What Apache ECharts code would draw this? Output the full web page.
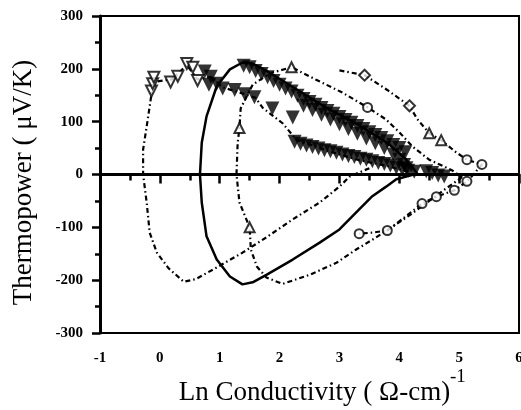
<!DOCTYPE html>
<html>
<head>
<meta charset="utf-8">
<script src="https://cdn.jsdelivr.net/npm/echarts@6/dist/echarts.min.js"></script>
<style>
  html, body { margin: 0; padding: 0; background: #fff; }
  #chart { width: 521px; height: 410px; }
</style>
</head>
<body>
<div id="chart"></div>
<script>
// ── Axis ticks ─────────────────────────────────────────────────────────
const xTicks = [-1, 0, 1, 2, 3, 4, 5, 6];
const yTicks = [-300, -200, -100, 0, 100, 200, 300];

// ── Curves (ln conductivity, thermopower) ─────────────────────────────
// leftmost dash-dot loop
const loopA = [
  [3.5, 12], [3.17, -4], [3.0, -23], [2.67, -53], [2.22, -85], [1.78, -119],
  [1.38, -148], [0.95, -176], [0.6, -198], [0.4, -203], [0.15, -178],
  [-0.05, -148], [-0.17, -110], [-0.22, -53], [-0.28, 0], [-0.28, 47],
  [-0.22, 91], [-0.17, 129], [-0.13, 160], [-0.13, 175], [0.2, 180],
  [0.45, 207], [0.63, 180], [0.85, 185], [1.05, 165], [1.42, 152],
  [1.6, 145], [1.72, 126], [2.05, 97], [2.28, 66], [2.8, 45], [3.3, 28],
  [3.8, 16], [4.2, 4]
];
// solid loop
const loopSolid = [
  [4.3, 2], [3.95, -9], [3.78, -23], [3.55, -41], [3.33, -66], [3.0, -104],
  [2.67, -129], [2.22, -161], [1.78, -190], [1.55, -204], [1.38, -208],
  [1.17, -193], [0.95, -161], [0.78, -117], [0.7, -53], [0.67, 0],
  [0.7, 60], [0.78, 110], [0.95, 167], [1.17, 199], [1.38, 212],
  [1.55, 210], [1.8, 195], [2.3, 160], [2.8, 125], [3.3, 95], [3.8, 60],
  [4.1, 30], [4.3, 2]
];
// middle dash-dot loop (open triangles)
const loopC = [
  [5.05, -5], [4.8, -25], [4.5, -50], [4.2, -75], [3.9, -98], [3.6, -120],
  [3.28, -142], [2.95, -167], [2.5, -190], [2.05, -207], [1.78, -195],
  [1.62, -174], [1.52, -142], [1.5, -100], [1.33, -53], [1.28, 0],
  [1.3, 60], [1.33, 88], [1.35, 125], [1.55, 170], [1.85, 192], [2.2, 203],
  [2.6, 180], [3.05, 155], [3.47, 127], [3.78, 104], [4.0, 80], [4.22, 53],
  [4.5, 28], [4.88, 8], [5.05, -5]
];
// right dash-dot loop (diamonds / circles)
const loopD = [
  [3.0, 197], [3.42, 188], [3.8, 160], [4.17, 130], [4.3, 105], [4.5, 78],
  [4.7, 65], [4.95, 42], [5.13, 28], [5.38, 19], [5.2, -5], [5.13, -13],
  [4.92, -30], [4.62, -42], [4.38, -55], [4.1, -80], [3.8, -106],
  [3.55, -110], [3.33, -112]
];

// ── Data points ───────────────────────────────────────────────────────
const openDownTri = [
  [-0.14, 158], [-0.12, 172], [-0.1, 184], [0.18, 175], [0.3, 186],
  [0.45, 210], [0.55, 203], [0.63, 178]
];
const filledDownTri = [
  // left cluster
  [0.75, 195], [0.85, 185], [0.95, 172], [1.05, 163], [0.82, 170],
  [1.25, 160], [1.42, 152], [1.58, 146], [1.88, 125], [2.22, 108],
  // upper band, top row
  [1.4, 206], [1.5, 203], [1.6, 196], [1.7, 190], [1.8, 184], [1.9, 177],
  [2.0, 170], [2.1, 163], [2.2, 157], [2.3, 149], [2.4, 143], [2.5, 137],
  [2.6, 132], [2.7, 126], [2.8, 120], [2.9, 115], [3.0, 109], [3.1, 103],
  [3.2, 98], [3.3, 92], [3.4, 86], [3.5, 80], [3.6, 75], [3.7, 69],
  [3.8, 63], [3.9, 56], [4.0, 50], [4.1, 42],
  // upper band, second row
  [2.4, 130], [2.55, 122], [2.7, 113], [2.85, 104], [3.0, 95], [3.15, 86],
  [3.3, 77], [3.45, 68], [3.6, 59], [3.75, 50], [3.9, 38], [4.0, 28],
  [4.08, 18], [4.12, 12],
  // lower band
  [2.25, 62], [2.35, 58], [2.45, 55], [2.55, 52], [2.65, 49], [2.75, 46],
  [2.85, 44], [2.95, 41], [3.05, 38], [3.15, 35], [3.25, 33], [3.35, 30],
  [3.45, 28], [3.55, 25], [3.65, 22], [3.75, 20], [3.85, 17], [3.95, 13],
  [4.05, 10], [4.15, 7], [4.25, 5],
  // beyond zero crossing
  [4.45, 6], [4.55, 3], [4.65, -2], [4.75, -4]
];
const openUpTri = [[2.2, 203], [1.33, 88], [1.5, -100], [4.5, 78], [4.7, 65]];
const openCircle = [
  [3.47, 127], [5.13, 28], [5.38, 19], [5.13, -13], [4.92, -30],
  [4.62, -42], [4.38, -55], [3.33, -112], [3.8, -106]
];
const openDiamond = [[3.42, 188], [4.17, 130]];
const zeroLine = [[-1, 0], [6, 0]];

const FONT = '"Liberation Serif", "DejaVu Serif", serif';
const DASHDOT = [5, 3, 1.5, 3];

function pathSeries(data, lineType, width) {
  return {
    type: 'line', data, symbol: 'none', smooth: false, silent: true,
    lineStyle: { color: '#000', width, type: lineType }, z: 2
  };
}
function markSeries(data, symbol, filled, size, rotate) {
  return {
    type: 'scatter', data, symbol, symbolSize: size, symbolRotate: rotate || 0, silent: true,
    itemStyle: filled
      ? { color: '#000' }
      : { color: '#fff', borderColor: '#000', borderWidth: 2 },
    z: 4
  };
}

const chart = echarts.init(document.getElementById('chart'));
chart.setOption({
  animation: false,
  backgroundColor: '#fff',
  grid: {
    left: 100, right: 2, top: 16, bottom: 77,
    outerBoundsMode: 'none', containLabel: false,
    show: true, borderColor: '#000', borderWidth: 2, backgroundColor: 'transparent'
  },
  xAxis: {
    type: 'value', min: xTicks[0], max: xTicks[xTicks.length - 1], interval: 1,
    splitLine: { show: false },
    axisLine: { lineStyle: { color: '#000', width: 3 } },
    axisTick: { inside: false, length: 9, lineStyle: { color: '#000', width: 2.5 } },
    minorTick: { show: true, splitNumber: 2, length: 6, lineStyle: { color: '#000', width: 2.5 } },
    axisLabel: { color: '#000', fontFamily: FONT, fontWeight: 'bold', fontSize: 15, margin: 18 },
    name: 'Ln Conductivity ( Ω-cm)',
    nameLocation: 'middle', nameGap: 46,
    nameTextStyle: { fontFamily: FONT, fontSize: 27, color: '#000', padding: [0, 0, 0, 10] }
  },
  yAxis: {
    type: 'value', min: yTicks[0], max: yTicks[yTicks.length - 1], interval: 100,
    splitLine: { show: false },
    axisLine: { onZero: false, lineStyle: { color: '#000', width: 3 } },
    axisTick: { inside: false, length: 8, lineStyle: { color: '#000', width: 2.5 } },
    minorTick: { show: true, splitNumber: 2, length: 5, lineStyle: { color: '#000', width: 2.5 } },
    axisLabel: { color: '#000', fontFamily: FONT, fontWeight: 'bold', fontSize: 15, margin: 17 },
    name: 'Thermopower ( μV/K)',
    nameLocation: 'middle', nameGap: 63, nameRotate: 90,
    nameTextStyle: { fontFamily: FONT, fontSize: 27, color: '#000', padding: [0, 16, 0, 0] }
  },
  // superscript of the x-axis unit
  graphic: [{
    type: 'text', left: 450, top: 368,
    style: { text: '-1', fontFamily: FONT, fontSize: 19, fill: '#000' }
  }],
  series: [
    pathSeries(zeroLine, 'solid', 2.5),
    pathSeries(loopA, DASHDOT, 2.2),
    pathSeries(loopSolid, 'solid', 2.5),
    pathSeries(loopC, DASHDOT, 2.2),
    pathSeries(loopD, DASHDOT, 2.2),
    markSeries(filledDownTri, 'triangle', true, 14, 180),
    markSeries(openDownTri, 'triangle', false, 11, 180),
    markSeries(openUpTri, 'triangle', false, 10, 0),
    markSeries(openCircle, 'circle', false, 9, 0),
    markSeries(openDiamond, 'diamond', false, 11, 0)
  ]
});
</script>
</body>
</html>
